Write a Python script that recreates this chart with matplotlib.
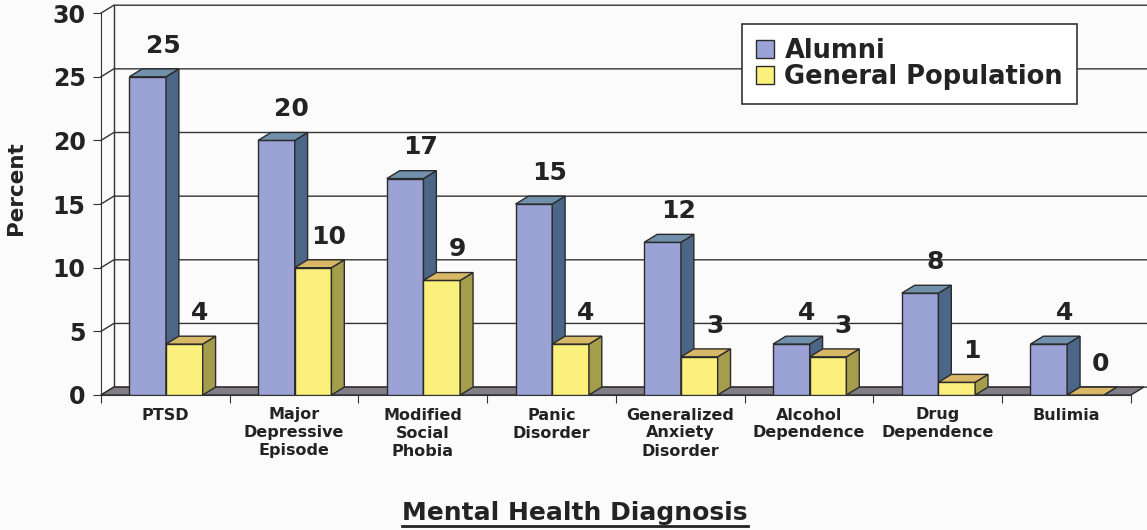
import matplotlib
matplotlib.use('Agg')
import matplotlib.pyplot as plt
from matplotlib.patches import Polygon, Patch
from matplotlib.lines import Line2D

# data
categories = ['PTSD', 'Major\nDepressive\nEpisode', 'Modified\nSocial\nPhobia',
              'Panic\nDisorder', 'Generalized\nAnxiety\nDisorder',
              'Alcohol\nDependence', 'Drug\nDependence', 'Bulimia']
alumni = [25, 20, 17, 15, 12, 4, 8, 4]
general_pop = [4, 10, 9, 4, 3, 3, 1, 0]
series_names = ['Alumni', 'General Population']
y_ticks = [0, 5, 10, 15, 20, 25, 30]

# fake 3d look
DX, DY = 0.10, 0.62
BAR_W = 0.285
XMAX = 8.125
EDGE = '#2b2b2b'
TXT = '#232323'

alumni_cols = ('#9ba2d6', '#4b6687', '#7190ab')
general_cols = ('#fbf07c', '#a49d4c', '#d8b866')


def bar3d(ax, x, h, cols, z):
    front, side, top = cols
    faces = [(front, [(x, 0), (x + BAR_W, 0), (x + BAR_W, h), (x, h)]),
             (side, [(x + BAR_W, 0), (x + BAR_W + DX, DY), (x + BAR_W + DX, h + DY), (x + BAR_W, h)]),
             (top, [(x, h), (x + BAR_W, h), (x + BAR_W + DX, h + DY), (x + DX, h + DY)])]
    for c, pts in faces:
        ax.add_patch(Polygon(pts, closed=True, facecolor=c, edgecolor=EDGE,
                             lw=1.0, zorder=z, joinstyle='miter'))


fig = plt.figure(figsize=(11.47, 5.30), dpi=100)
fig.patch.set_facecolor('#fbfbfb')
ax = fig.add_axes([101 / 1147, 135 / 530, (1147 - 101) / 1147, 395 / 530])
ax.set_facecolor('none')
ax.set_xlim(0, XMAX)
ax.set_ylim(0, 395 / 12.73)

# back wall grid + left wall
for t in y_ticks:
    ax.plot([0, DX, XMAX], [t, t + DY, t + DY], color='#333333', lw=1.0,
            zorder=1, clip_on=False)
ax.plot([DX, DX], [DY, 30 + DY], color='#333333', lw=1.0, zorder=1)

# floor
ax.add_patch(Polygon([(0, 0), (8, 0), (8 + DX, DY), (DX, DY)], closed=True,
                     facecolor='#827e88', edgecolor=EDGE, lw=1.0, zorder=2))

for i in range(len(categories)):
    xa = i + 0.22
    xg = i + 0.505
    bar3d(ax, xa, alumni[i], alumni_cols, 3 + 2 * i)
    bar3d(ax, xg, general_pop[i], general_cols, 4 + 2 * i)
    ax.text(xa + BAR_W / 2 + 0.12, alumni[i] + 1.9, str(alumni[i]), ha='center',
            va='baseline', fontsize=18, fontweight='bold', color=TXT, zorder=30)
    ax.text(xg + BAR_W / 2 + 0.12, general_pop[i] + 1.9, str(general_pop[i]), ha='center',
            va='baseline', fontsize=18, fontweight='bold', color=TXT, zorder=30)

# axes
for s in ['top', 'right']:
    ax.spines[s].set_visible(False)
ax.spines['left'].set_bounds(0, 30)
ax.spines['bottom'].set_bounds(0, 8)
ax.spines['left'].set_color('#333333')
ax.spines['bottom'].set_color('#333333')
ax.set_yticks(y_ticks)
ax.set_yticklabels([str(t) for t in y_ticks], fontsize=17, fontweight='bold', color=TXT)
ax.tick_params(axis='y', direction='out', length=6, pad=5, color='#333333')
ax.set_xticks(range(9))
ax.set_xticklabels([])
ax.set_xticks([i + 0.5 for i in range(8)], minor=True)
ax.set_xticklabels(categories, minor=True, fontsize=11.5, fontweight='bold',
                   color=TXT, linespacing=1.25)
ax.tick_params(axis='x', which='major', direction='out', length=6, color='#333333')
ax.tick_params(axis='x', which='minor', length=0, pad=9)

fig.text(16 / 1147, 1 - 188 / 530, 'Percent', rotation=90, ha='center', va='center',
         fontsize=15.5, fontweight='bold', color=TXT)
title = fig.text(575 / 1147, 1 - 520 / 530, 'Mental Health Diagnosis', ha='center',
                 va='baseline', fontsize=18, fontweight='bold', color=TXT)

handles = [Patch(facecolor=alumni_cols[0], edgecolor=EDGE, lw=1.0, label=series_names[0]),
           Patch(facecolor=general_cols[0], edgecolor=EDGE, lw=1.0, label=series_names[1])]
leg = fig.legend(handles=handles, loc='upper left', bbox_to_anchor=(742 / 1147, 1 - 24 / 530),
                 frameon=True, fancybox=False, edgecolor='#333333', facecolor='white',
                 framealpha=1, prop={'weight': 'bold', 'size': 18.5},
                 handlelength=0.7, handleheight=0.7, handletextpad=0.4,
                 labelspacing=0.0, borderpad=0.55, borderaxespad=0)
leg.get_frame().set_linewidth(1.2)
for t in leg.get_texts():
    t.set_color(TXT)

# underline for the axis title
fig.canvas.draw()
bb = title.get_window_extent()
fig.add_artist(Line2D([bb.x0 / 1147, bb.x1 / 1147], [4 / 530, 4 / 530],
                      color=TXT, lw=2.0, transform=fig.transFigure))

fig.savefig('out.png', dpi=100, facecolor=fig.get_facecolor())
